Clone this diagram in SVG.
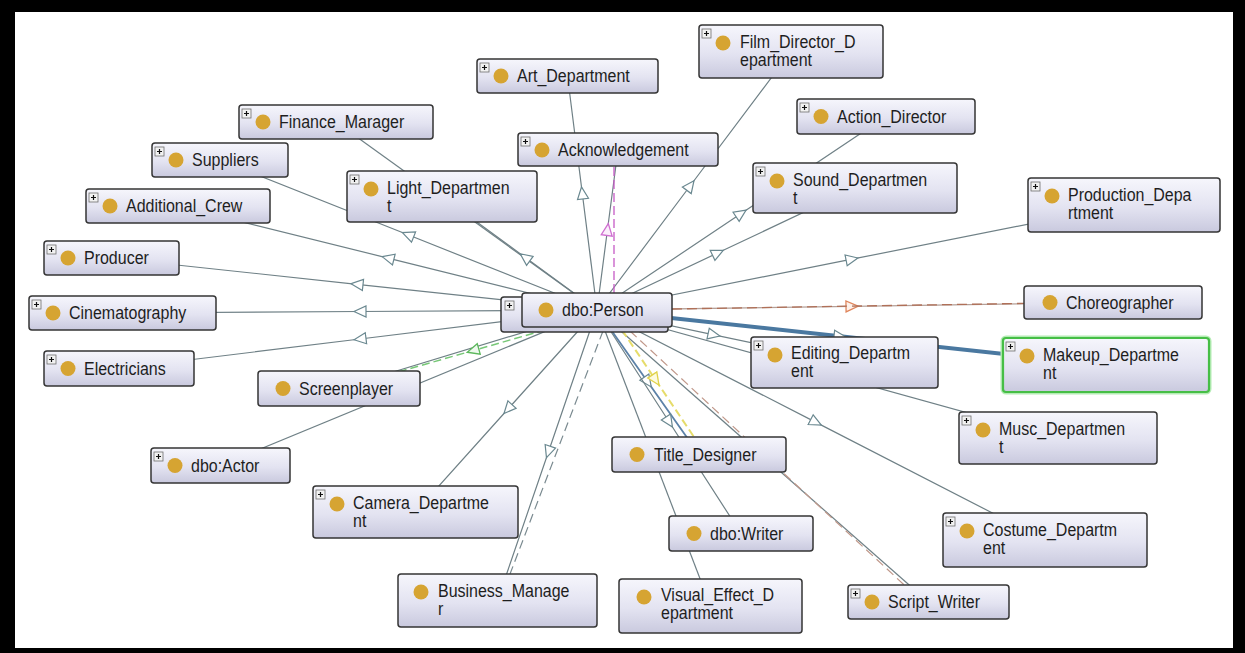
<svg xmlns="http://www.w3.org/2000/svg" width="1245" height="653" viewBox="0 0 1245 653">
<defs>
  <linearGradient id="nodeFill" x1="0" y1="0" x2="0" y2="1">
    <stop offset="0" stop-color="#f6f6fc"/>
    <stop offset="0.55" stop-color="#e3e3f1"/>
    <stop offset="1" stop-color="#c9c9de"/>
  </linearGradient>
  <marker id="tri" viewBox="-1 -7 15 14" markerWidth="15" markerHeight="14" refX="6" refY="0" orient="auto" markerUnits="userSpaceOnUse">
    <path d="M12,0 L0,-5.5 L0,5.5 Z" fill="#ffffff" stroke="#6a8890" stroke-width="1.2"/>
  </marker>
  <marker id="triPink" viewBox="-1 -7 15 14" markerWidth="15" markerHeight="14" refX="6" refY="0" orient="auto" markerUnits="userSpaceOnUse">
    <path d="M12,0 L0,-5.5 L0,5.5 Z" fill="#fbeefb" stroke="#cf6fd0" stroke-width="1.3"/>
  </marker>
  <marker id="triGreen" viewBox="-1 -7 15 14" markerWidth="15" markerHeight="14" refX="6" refY="0" orient="auto" markerUnits="userSpaceOnUse">
    <path d="M12,0 L0,-5.5 L0,5.5 Z" fill="#eef9ee" stroke="#5cb85c" stroke-width="1.3"/>
  </marker>
  <marker id="triOrange" viewBox="-1 -7 15 14" markerWidth="15" markerHeight="14" refX="6" refY="0" orient="auto" markerUnits="userSpaceOnUse">
    <path d="M12,0 L0,-5.5 L0,5.5 Z" fill="#fdf1ea" stroke="#e0865c" stroke-width="1.3"/>
  </marker>
  <marker id="triYellow" viewBox="-1 -7 15 14" markerWidth="15" markerHeight="14" refX="6" refY="0" orient="auto" markerUnits="userSpaceOnUse">
    <path d="M12,0 L0,-5.5 L0,5.5 Z" fill="#fdfbe0" stroke="#e0d24a" stroke-width="1.3"/>
  </marker>
  <g id="plus">
    <rect x="0" y="0" width="9" height="9" fill="#f2f2f2" stroke="#6e6e6e" stroke-width="0.8"/>
    <path d="M2,4.5 H7 M4.5,2 V7" stroke="#111111" stroke-width="1.2"/>
  </g>
</defs>
<style>
  .box{fill:url(#nodeFill);stroke:#353535;stroke-width:1.5}
  .dot{fill:#d6a432}
  .lbl{font-family:"Liberation Sans",Arial,sans-serif;font-size:16px;fill:#1e1e1e}
  .e{fill:none;stroke:#6f8086;stroke-width:1.2}
  .m{marker-mid:url(#tri)}
</style>

<rect x="0" y="0" width="1245" height="653" fill="#000000"/>
<rect x="15" y="12" width="1218" height="636" fill="#ffffff"/>

<g id="connectors">
  <path class="e m" d="M597,310 L690.4,185.5 L791,51.5"/>
  <path class="e m" d="M597,310 L582.25,193 L567.5,76"/>
  <path class="e" style="marker-mid:url(#triPink)" d="M597,310 L607.5,229.5 L618,149.5"/>
  <path d="M614,293 L614,166" fill="none" stroke="#c65bc6" stroke-width="1.3" stroke-dasharray="9 4"/>
  <path class="e" d="M597,310 L336,122"/>
  <path class="e m" d="M597,310 L408,234.8 L220,160"/>
  <path class="e m" d="M597,310 L388,258.1 L178,206"/>
  <path class="e m" d="M597,310 L525,257.3 L442,196.5"/>
  <path class="e m" d="M597,310 L741.1,213.5 L886,116.5"/>
  <path class="e m" d="M597,310 L718,252.8 L855,188"/>
  <path class="e m" d="M597,310 L852,259.2 L1124,205"/>
  <path class="e m" d="M597,310 L357,284.3 L111.5,258"/>
  <path class="e m" d="M597,310 L360,311.5 L122.5,313"/>
  <path class="e m" d="M597,310 L360,339 L119,368.5"/>
  <path class="e" d="M597,310 L339,388.5"/>
  <path d="M545,330 L473,350.6 L398,372" fill="none" stroke="#78c878" stroke-width="1.5" stroke-dasharray="8 4" style="marker-mid:url(#triGreen)"/>
  <path class="e" d="M597,310 L220.5,465.5"/>
  <path d="M597,310 L852,306.3 L1113,302.5" fill="none" stroke="#b4a098" stroke-width="1.3" style="marker-mid:url(#triOrange)"/>
  <path d="M672,309 L1024,303.4" fill="none" stroke="#b07058" stroke-width="1.3" stroke-dasharray="10 5"/>
  <path class="e m" d="M597,310 L714,334.8 L844.5,362.5"/>
  <path class="e" d="M597,310 L1058,438"/>
  <path class="m" d="M597,310 L840,336.3 L1106,365" fill="none" stroke="#4a78a0" stroke-width="4"/>
  <path class="e m" d="M597,310 L816,422.4 L1045,540"/>
  <path class="e" d="M597,310 L928.5,602"/>
  <path d="M630,331 L914,594" fill="none" stroke="#c0988a" stroke-width="1.2" stroke-dasharray="9 5"/>
  <path class="m" d="M597,310 L647.8,382 L699,454.5" fill="none" stroke="#5c82a8" stroke-width="1.8"/>
  <path d="M622,330 L655.6,380 L694,437" fill="none" stroke="#e6dc6a" stroke-width="2" stroke-dasharray="8 4" style="marker-mid:url(#triYellow)"/>
  <path class="e m" d="M597,310 L669.2,422 L741,533.5"/>
  <path class="e" d="M597,310 L710.5,606"/>
  <path class="e m" d="M597,310 L548.4,452 L497.5,600.5"/>
  <path d="M603,331 L510,574" fill="none" stroke="#7a8a90" stroke-width="1.2" stroke-dasharray="9 5"/>
  <path class="e m" d="M597,310 L508,409 L415.5,512"/>
</g>

<g id="n-film-director" transform="translate(699 25)">
  <rect class="box" width="184" height="53" rx="3"/>
  <use href="#plus" x="3" y="4"/>
  <circle class="dot" cx="24" cy="18" r="7.5"/>
  <text class="lbl" transform="translate(41 23) scale(1 1.12)"><tspan x="0" y="0">Film_Director_D</tspan><tspan x="0" y="16">epartment</tspan></text>
</g>
<g id="n-art-department" transform="translate(477 59)">
  <rect class="box" width="181" height="34" rx="3"/>
  <use href="#plus" x="3" y="4"/>
  <circle class="dot" cx="24" cy="17" r="7.5"/>
  <text class="lbl" transform="translate(40 23) scale(1 1.12)">Art_Department</text>
</g>
<g id="n-acknowledgement" transform="translate(518 133)">
  <rect class="box" width="200" height="33" rx="3"/>
  <use href="#plus" x="3" y="4"/>
  <circle class="dot" cx="24" cy="17" r="7.5"/>
  <text class="lbl" transform="translate(40 23) scale(1 1.12)">Acknowledgement</text>
</g>
<g id="n-finance-manager" transform="translate(239 105)">
  <rect class="box" width="194" height="34" rx="3"/>
  <use href="#plus" x="3" y="4"/>
  <circle class="dot" cx="24" cy="17" r="7.5"/>
  <text class="lbl" transform="translate(40 23) scale(1 1.12)">Finance_Marager</text>
</g>
<g id="n-suppliers" transform="translate(152 143)">
  <rect class="box" width="136" height="34" rx="3"/>
  <use href="#plus" x="3" y="4"/>
  <circle class="dot" cx="24" cy="17" r="7.5"/>
  <text class="lbl" transform="translate(40 23) scale(1 1.12)">Suppliers</text>
</g>
<g id="n-additional-crew" transform="translate(86 189)">
  <rect class="box" width="184" height="34" rx="3"/>
  <use href="#plus" x="3" y="4"/>
  <circle class="dot" cx="24" cy="17" r="7.5"/>
  <text class="lbl" transform="translate(40 23) scale(1 1.12)">Additional_Crew</text>
</g>
<g id="n-light-department" transform="translate(347 171)">
  <rect class="box" width="190" height="51" rx="3"/>
  <use href="#plus" x="3" y="4"/>
  <circle class="dot" cx="24" cy="18" r="7.5"/>
  <text class="lbl" transform="translate(40 23) scale(1 1.12)"><tspan x="0" y="0">Light_Departmen</tspan><tspan x="0" y="16">t</tspan></text>
</g>
<g id="n-action-director" transform="translate(797 99)">
  <rect class="box" width="178" height="35" rx="3"/>
  <use href="#plus" x="3" y="4"/>
  <circle class="dot" cx="24" cy="17.5" r="7.5"/>
  <text class="lbl" transform="translate(40 23.5) scale(1 1.12)">Action_Director</text>
</g>
<g id="n-sound-department" transform="translate(753 163)">
  <rect class="box" width="204" height="50" rx="3"/>
  <use href="#plus" x="3" y="4"/>
  <circle class="dot" cx="24" cy="18" r="7.5"/>
  <text class="lbl" transform="translate(40 23) scale(1 1.12)"><tspan x="0" y="0">Sound_Departmen</tspan><tspan x="0" y="16">t</tspan></text>
</g>
<g id="n-production-department" transform="translate(1028 178)">
  <rect class="box" width="192" height="54" rx="3"/>
  <use href="#plus" x="3" y="4"/>
  <circle class="dot" cx="24" cy="18" r="7.5"/>
  <text class="lbl" transform="translate(40 23) scale(1 1.12)"><tspan x="0" y="0">Production_Depa</tspan><tspan x="0" y="16">rtment</tspan></text>
</g>
<g id="n-producer" transform="translate(44 241)">
  <rect class="box" width="135" height="34" rx="3"/>
  <use href="#plus" x="3" y="4"/>
  <circle class="dot" cx="24" cy="17" r="7.5"/>
  <text class="lbl" transform="translate(40 23) scale(1 1.12)">Producer</text>
</g>
<g id="n-cinematography" transform="translate(29 296)">
  <rect class="box" width="187" height="34" rx="3"/>
  <use href="#plus" x="3" y="4"/>
  <circle class="dot" cx="24" cy="17" r="7.5"/>
  <text class="lbl" transform="translate(40 23) scale(1 1.12)">Cinematography</text>
</g>
<g id="n-electricians" transform="translate(44 351)">
  <rect class="box" width="150" height="35" rx="3"/>
  <use href="#plus" x="3" y="4"/>
  <circle class="dot" cx="24" cy="17.5" r="7.5"/>
  <text class="lbl" transform="translate(40 23.5) scale(1 1.12)">Electricians</text>
</g>
<g id="n-screenplayer" transform="translate(258 371)">
  <rect class="box" width="162" height="35" rx="3"/>
  <circle class="dot" cx="25" cy="17.5" r="7.5"/>
  <text class="lbl" transform="translate(41 23.5) scale(1 1.12)">Screenplayer</text>
</g>
<g id="n-choreographer" transform="translate(1024 286)">
  <rect class="box" width="178" height="33" rx="3"/>
  <circle class="dot" cx="26" cy="16.5" r="7.5"/>
  <text class="lbl" transform="translate(42 22.5) scale(1 1.12)">Choreographer</text>
</g>
<g id="n-editing-department" transform="translate(751 337)">
  <rect class="box" width="187" height="51" rx="3"/>
  <use href="#plus" x="3" y="4"/>
  <circle class="dot" cx="24" cy="18" r="7.5"/>
  <text class="lbl" transform="translate(40 22) scale(1 1.12)"><tspan x="0" y="0">Editing_Departm</tspan><tspan x="0" y="16.5">ent</tspan></text>
</g>
<g id="n-makeup-department" transform="translate(1003 338)">
  <rect width="206" height="54" rx="3" fill="none" stroke="#b4ecb4" stroke-width="5"/>
  <rect class="box" width="206" height="54" rx="3" style="stroke:#46be46;stroke-width:2.2"/>
  <use href="#plus" x="3" y="4"/>
  <circle class="dot" cx="24" cy="18" r="7.5"/>
  <text class="lbl" transform="translate(40 23) scale(1 1.12)"><tspan x="0" y="0">Makeup_Departme</tspan><tspan x="0" y="16">nt</tspan></text>
</g>
<g id="n-music-department" transform="translate(959 412)">
  <rect class="box" width="198" height="52" rx="3"/>
  <use href="#plus" x="3" y="4"/>
  <circle class="dot" cx="24" cy="18" r="7.5"/>
  <text class="lbl" transform="translate(40 23) scale(1 1.12)"><tspan x="0" y="0">Musc_Departmen</tspan><tspan x="0" y="16">t</tspan></text>
</g>
<g id="n-costume-department" transform="translate(943 513)">
  <rect class="box" width="204" height="54" rx="3"/>
  <use href="#plus" x="3" y="4"/>
  <circle class="dot" cx="24" cy="18" r="7.5"/>
  <text class="lbl" transform="translate(40 23) scale(1 1.12)"><tspan x="0" y="0">Costume_Departm</tspan><tspan x="0" y="16">ent</tspan></text>
</g>
<g id="n-script-writer" transform="translate(848 585)">
  <rect class="box" width="161" height="34" rx="3"/>
  <use href="#plus" x="3" y="4"/>
  <circle class="dot" cx="24" cy="17" r="7.5"/>
  <text class="lbl" transform="translate(40 23) scale(1 1.12)">Script_Writer</text>
</g>
<g id="n-title-designer" transform="translate(612 437)">
  <rect class="box" width="174" height="35" rx="3"/>
  <circle class="dot" cx="25" cy="17.5" r="7.5"/>
  <text class="lbl" transform="translate(42 23.5) scale(1 1.12)">Title_Designer</text>
</g>
<g id="n-dbo-writer" transform="translate(669 516)">
  <rect class="box" width="144" height="35" rx="3"/>
  <circle class="dot" cx="25" cy="17.5" r="7.5"/>
  <text class="lbl" transform="translate(41 23.5) scale(1 1.12)">dbo:Writer</text>
</g>
<g id="n-visual-effect-department" transform="translate(619 579)">
  <rect class="box" width="183" height="54" rx="3"/>
  <circle class="dot" cx="25" cy="18" r="7.5"/>
  <text class="lbl" transform="translate(42 22) scale(1 1.12)"><tspan x="0" y="0">Visual_Effect_D</tspan><tspan x="0" y="16.5">epartment</tspan></text>
</g>
<g id="n-business-manager" transform="translate(398 574)">
  <rect class="box" width="199" height="53" rx="3"/>
  <circle class="dot" cx="23" cy="18" r="7.5"/>
  <text class="lbl" transform="translate(40 23) scale(1 1.12)"><tspan x="0" y="0">Business_Manage</tspan><tspan x="0" y="16">r</tspan></text>
</g>
<g id="n-camera-department" transform="translate(313 486)">
  <rect class="box" width="205" height="52" rx="3"/>
  <use href="#plus" x="3" y="4"/>
  <circle class="dot" cx="24" cy="18" r="7.5"/>
  <text class="lbl" transform="translate(40 23) scale(1 1.12)"><tspan x="0" y="0">Camera_Departme</tspan><tspan x="0" y="16">nt</tspan></text>
</g>
<g id="n-dbo-actor" transform="translate(151 448)">
  <rect class="box" width="139" height="35" rx="3"/>
  <use href="#plus" x="3" y="4"/>
  <circle class="dot" cx="24" cy="17.5" r="7.5"/>
  <text class="lbl" transform="translate(40 23.5) scale(1 1.12)">dbo:Actor</text>
</g>
<g id="n-dbo-person">
  <rect class="box" x="501" y="297" width="167" height="35" rx="3"/>
  <use href="#plus" x="505" y="301"/>
  <rect class="box" x="522" y="293" width="150" height="34" rx="3"/>
  <circle class="dot" cx="546" cy="310" r="7.5"/>
  <text class="lbl" transform="translate(562 316) scale(1 1.12)">dbo:Person</text>
</g>
</svg>
